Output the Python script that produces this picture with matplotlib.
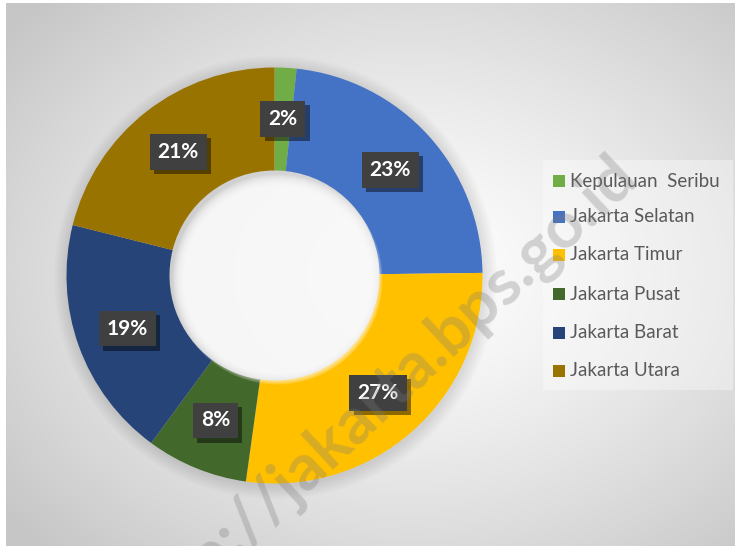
import numpy as np
import matplotlib
matplotlib.use('Agg')
from matplotlib import pyplot as plt
from matplotlib import patheffects
from matplotlib.patches import Rectangle, Circle

# data: share of each region (percent)
regions = ['Kepulauan  Seribu', 'Jakarta Selatan', 'Jakarta Timur',
           'Jakarta Pusat', 'Jakarta Barat', 'Jakarta Utara']
shares = [1.7, 23.1, 27.4, 7.9, 18.8, 21.1]
colors = ['#70AD47', '#4472C4', '#FFC000', '#43682B', '#264478', '#997300']
watermark = 'http://jakarta.bps.go.id'

W, H = 735, 546
fig = plt.figure(figsize=(W / 100, H / 100), dpi=100)
ax = fig.add_axes([0, 0, 1, 1])
ax.set_xlim(0, W)
ax.set_ylim(0, H)
ax.set_aspect('equal')
ax.axis('off')

# radial gradient background of the chart area
x0, x1, y0, y1 = 6, W, 0, H - 3
gx, gy = np.meshgrid(np.linspace(x0, x1, 300), np.linspace(y1, y0, 220))
cx_bg, cy_bg = (x0 + x1) / 2 + 40, (y0 + y1) / 2
d = np.sqrt(((gx - cx_bg) / ((x1 - x0) / 2)) ** 2 + ((gy - cy_bg) / ((y1 - y0) / 2)) ** 2)
d = np.clip(d / np.sqrt(2), 0, 1)
shade = 1.0 - 0.22 * d ** 1.3
ax.imshow(np.dstack([shade] * 3), extent=[x0, x1, y0, y1], zorder=0,
          interpolation='bilinear', aspect='auto')

# donut
cx, cy = 274.5, H - 275.5
r_out, r_in = 208, 105

# soft shadow around the ring
for k in range(14):
    ax.add_patch(Circle((cx + 1, cy - 2), r_out + 14 - k, color='black',
                        alpha=0.008, lw=0, zorder=1))

wedges, _ = ax.pie(shares, colors=colors, startangle=90, counterclock=False,
                   radius=r_out, center=(cx, cy),
                   wedgeprops=dict(width=r_out - r_in, edgecolor='none'))
for w in wedges:
    w.set_zorder(2)
ax.set_xlim(0, W)
ax.set_ylim(0, H)
ax.axis('off')

# inner shadow of the hole
for k in range(10):
    ax.add_patch(Circle((cx + 3, cy - 4), r_in - k * 1.2, color='white',
                        alpha=0.18, lw=0, zorder=3))

# labels at the middle of each slice
total = sum(shares)
start = 90.0
for val, w in zip(shares, wedges):
    ang = np.deg2rad(start - 360 * val / total / 2)
    start -= 360 * val / total
    rm = (r_out + r_in) / 2
    t = ax.text(cx + rm * np.cos(ang), cy + rm * np.sin(ang),
                '%d%%' % round(val / total * 100),
                ha='center', va='center', color='white', fontsize=15,
                fontweight='bold', family=['Lato', 'DejaVu Sans'], zorder=6,
                bbox=dict(boxstyle='square,pad=0.38', fc='#404040', ec='none'))
    t.get_bbox_patch().set_path_effects([
        patheffects.withSimplePatchShadow(offset=(3, -3), shadow_rgbFace='black',
                                          alpha=0.45),
        patheffects.Normal()])

# legend
ax.add_patch(Rectangle((543, H - 390), 190, 230, fc='white', alpha=0.35,
                       ec='none', zorder=4))
leg_y = [181, 217, 255, 294, 333, 371]
for name, col, yy in zip(regions, colors, leg_y):
    ax.add_patch(Rectangle((553, H - yy - 6), 12, 12, fc=col, ec='none', zorder=5))
    ax.text(570, H - yy, name, ha='left', va='center', color='#595959',
            fontsize=13.5, family=['Lato', 'DejaVu Sans'], zorder=5)

# watermark
ax.text(640, H - 180, watermark, ha='right', va='baseline', rotation=43,
        rotation_mode='anchor', fontsize=47, fontweight='bold',
        family=['Lato', 'DejaVu Sans'], color='#7a7a7a', alpha=0.3, zorder=7)

fig.savefig('out.png', dpi=100, facecolor='white')
